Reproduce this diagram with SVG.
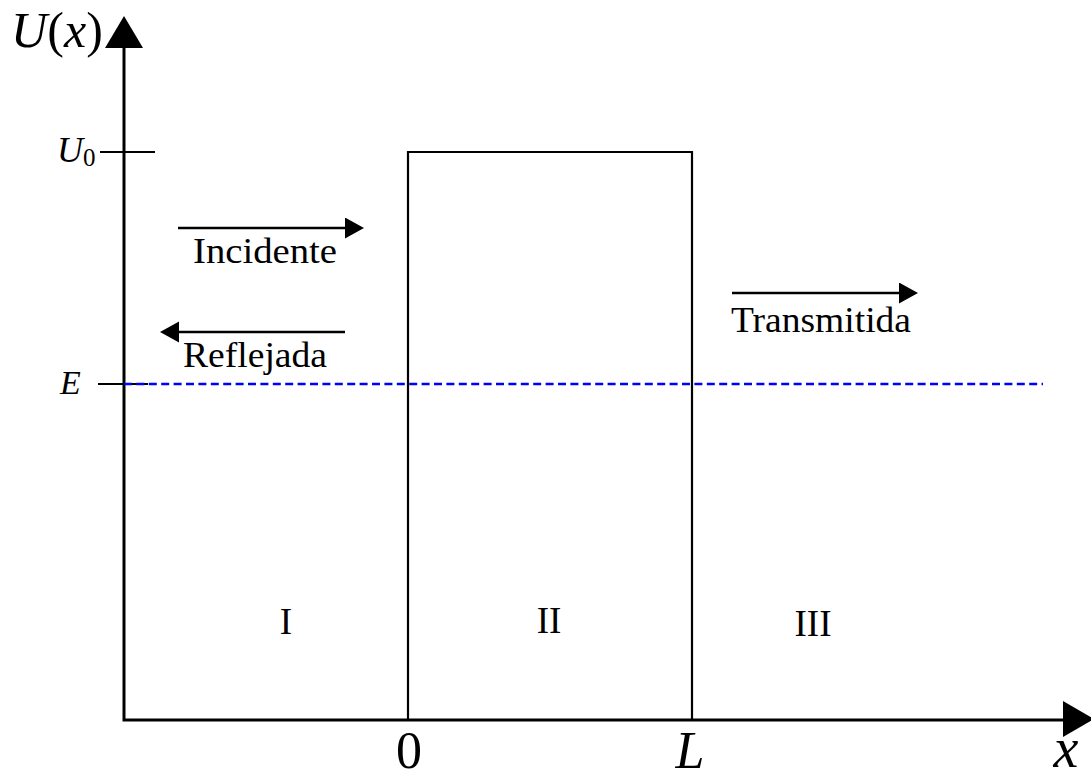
<svg xmlns="http://www.w3.org/2000/svg" width="1091" height="780" viewBox="0 0 1091 780">
<defs>
<style>
.ax{stroke:#000;stroke-width:3;fill:none}
.thin{stroke:#000;stroke-width:2.2;fill:none}
.arr{stroke:#000;stroke-width:2.4;fill:none}
.t{font-family:"Liberation Serif","DejaVu Serif",serif;fill:#000}
.it{font-style:italic}
</style>
<marker id="ah" markerUnits="userSpaceOnUse" markerWidth="20" markerHeight="22" refX="0" refY="10.5" orient="auto">
<path d="M0,0 L19,10.5 L0,21 z" fill="#000"/>
</marker>
</defs>
<rect width="1091" height="780" fill="#fff"/>
<g id="axes">
<path class="ax" d="M124,48 V720 H1064" stroke-linejoin="miter"/>
<polygon points="105,48 143,48 124,16" fill="#000"/>
<polygon points="1063,701 1063,737 1094,719" fill="#000"/>
<line class="thin" x1="100" y1="152" x2="155" y2="152"/>
<line class="thin" x1="98" y1="384" x2="148" y2="384"/>
<text class="t" x="11" y="47" font-size="50" textLength="92" lengthAdjust="spacing"><tspan class="it">U</tspan><tspan>(</tspan><tspan class="it">x</tspan><tspan>)</tspan></text>
<text class="t" x="57" y="162" font-size="36"><tspan class="it">U</tspan><tspan font-size="25" dy="4">0</tspan></text>
<text class="t it" x="60" y="394" font-size="34">E</text>
<text class="t" x="409" y="768" font-size="52" text-anchor="middle">0</text>
<text class="t it" x="690" y="768" font-size="52" text-anchor="middle">L</text>
<text class="t it" x="1066" y="767" font-size="56" text-anchor="middle">x</text>
</g>
<g id="barrier">
<path class="thin" d="M408,720 V152 H692 V720" stroke-width="2.5"/>
</g>
<g id="energy">
<line x1="124" y1="384" x2="1043" y2="384" stroke="#0000ff" stroke-width="2.5" stroke-dasharray="8,4.4"/>
</g>
<g id="regions">
<text class="t" x="286" y="634" font-size="37" text-anchor="middle">I</text>
<text class="t" x="549" y="633" font-size="37" text-anchor="middle">II</text>
<text class="t" x="813" y="636" font-size="37" text-anchor="middle">III</text>
</g>
<g id="connectors">
<line class="arr" x1="178" y1="228" x2="345" y2="228" marker-end="url(#ah)"/>
<line class="arr" x1="345" y1="332" x2="179" y2="332" marker-end="url(#ah)"/>
<line class="arr" x1="732" y1="293" x2="899" y2="293" marker-end="url(#ah)"/>
</g>
<g id="labels">
<text class="t" x="193" y="263" font-size="36" textLength="144" lengthAdjust="spacingAndGlyphs">Incidente</text>
<text class="t" x="183" y="367" font-size="35" textLength="144" lengthAdjust="spacingAndGlyphs">Reflejada</text>
<text class="t" x="731" y="332" font-size="36" textLength="180" lengthAdjust="spacingAndGlyphs">Transmitida</text>
</g>
</svg>
